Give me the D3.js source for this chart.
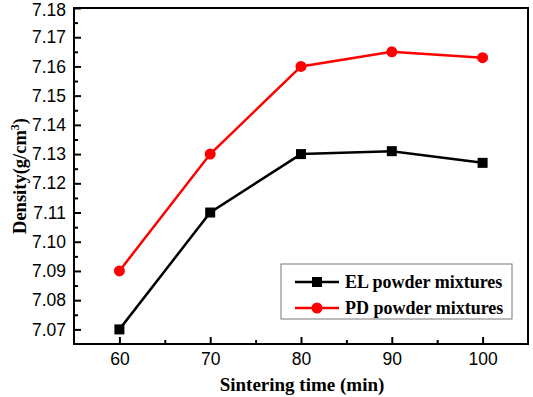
<!DOCTYPE html>
<html>
<head>
<meta charset="utf-8">
<script src="https://cdn.jsdelivr.net/npm/d3@7"></script>
<style>
  body { margin: 0; background: #fff; }
  svg { display: block; }
</style>
</head>
<body>
<div id="chart"></div>
<script>
// Data
const times = [60, 70, 80, 90, 100];
const elDensity = [7.070, 7.110, 7.130, 7.131, 7.127];
const pdDensity = [7.090, 7.130, 7.160, 7.165, 7.163];
const yTickValues = [7.07, 7.08, 7.09, 7.10, 7.11, 7.12, 7.13, 7.14, 7.15, 7.16, 7.17, 7.18];
const xTickValues = [60, 70, 80, 90, 100];
const seriesNames = ['EL powder mixtures', 'PD powder mixtures'];

const W = 533, H = 397;
const margin = { top: 8, right: 5, bottom: 53, left: 74 };
const width = W - margin.left - margin.right;
const height = H - margin.top - margin.bottom;

const svg = d3.select('#chart').append('svg')
  .attr('width', W)
  .attr('height', H);

const g = svg.append('g')
  .attr('transform', `translate(${margin.left},${margin.top})`);

const x = d3.scaleLinear().domain([55, 105]).range([0, width]);
const y = d3.scaleLinear().domain([7.065, 7.18]).range([height, 0]);

// Minor ticks (inward)
const xMinor = [65, 75, 85, 95];
const yMinor = d3.range(7.075, 7.18, 0.01).map(v => +v.toFixed(3));

g.append('g')
  .attr('transform', `translate(0,${height})`)
  .call(d3.axisBottom(x).tickValues(xMinor).tickSize(-4).tickFormat(''))
  .call(s => s.select('.domain').remove())
  .selectAll('line').attr('stroke', '#000').attr('stroke-width', 2);

g.append('g')
  .call(d3.axisLeft(y).tickValues(yMinor).tickSize(-4).tickFormat(''))
  .call(s => s.select('.domain').remove())
  .selectAll('line').attr('stroke', '#000').attr('stroke-width', 2);

// Major axes
const xAxis = g.append('g')
  .attr('transform', `translate(0,${height})`)
  .call(d3.axisBottom(x).tickValues(xTickValues).tickSizeInner(-7).tickSizeOuter(0).tickPadding(9));
xAxis.select('.domain').remove();
xAxis.selectAll('line').attr('stroke', '#000').attr('stroke-width', 2);
xAxis.selectAll('text')
  .attr('font-family', 'Liberation Sans, Arial, sans-serif')
  .attr('font-size', 17.5).attr('fill', '#000');

const yAxis = g.append('g')
  .call(d3.axisLeft(y).tickValues(yTickValues).tickFormat(d3.format('.2f')).tickSizeInner(-7).tickSizeOuter(0).tickPadding(8));
yAxis.select('.domain').remove();
yAxis.selectAll('line').attr('stroke', '#000').attr('stroke-width', 2);
yAxis.selectAll('text')
  .attr('font-family', 'Liberation Sans, Arial, sans-serif')
  .attr('font-size', 17.5).attr('fill', '#000');
// keep the top label inside the page
yAxis.selectAll('text').filter(d => d === 7.18).attr('dy', '0.45em');

// Frame
g.append('rect')
  .attr('x', 0).attr('y', 0)
  .attr('width', width).attr('height', height)
  .attr('fill', 'none')
  .attr('stroke', '#000')
  .attr('stroke-width', 2);

// Lines
const line = d3.line().x((d, i) => x(times[i])).y(d => y(d));

g.append('path').datum(elDensity)
  .attr('fill', 'none').attr('stroke', '#000').attr('stroke-width', 2.5)
  .attr('d', line);
g.append('path').datum(pdDensity)
  .attr('fill', 'none').attr('stroke', '#ff0000').attr('stroke-width', 2.5)
  .attr('d', line);

g.selectAll('.el-pt').data(elDensity).enter().append('rect')
  .attr('class', 'el-pt')
  .attr('x', (d, i) => x(times[i]) - 5)
  .attr('y', d => y(d) - 5)
  .attr('width', 10).attr('height', 10)
  .attr('fill', '#000');

g.selectAll('.pd-pt').data(pdDensity).enter().append('circle')
  .attr('class', 'pd-pt')
  .attr('cx', (d, i) => x(times[i]))
  .attr('cy', d => y(d))
  .attr('r', 5.5)
  .attr('fill', '#ff0000');

// Legend
const legend = svg.append('g').attr('transform', 'translate(281,264)');
legend.append('rect')
  .attr('width', 231).attr('height', 55)
  .attr('fill', '#fff').attr('stroke', '#777').attr('stroke-width', 1);

const rows = [
  { name: seriesNames[0], color: '#000', marker: 'square', y: 18 },
  { name: seriesNames[1], color: '#ff0000', marker: 'circle', y: 44 }
];
rows.forEach(r => {
  legend.append('line')
    .attr('x1', 14).attr('x2', 58).attr('y1', r.y).attr('y2', r.y)
    .attr('stroke', r.color).attr('stroke-width', 2.5);
  if (r.marker === 'square') {
    legend.append('rect').attr('x', 31).attr('y', r.y - 5).attr('width', 10).attr('height', 10).attr('fill', r.color);
  } else {
    legend.append('circle').attr('cx', 36).attr('cy', r.y).attr('r', 5.5).attr('fill', r.color);
  }
  legend.append('text')
    .attr('x', 64).attr('y', r.y).attr('dy', '0.35em')
    .attr('font-family', 'Liberation Serif, Times New Roman, serif')
    .attr('font-weight', 'bold').attr('font-size', 18)
    .text(r.name);
});

// Axis titles
svg.append('text')
  .attr('x', 302)
  .attr('y', 391)
  .attr('text-anchor', 'middle')
  .attr('font-family', 'Liberation Serif, Times New Roman, serif')
  .attr('font-weight', 'bold').attr('font-size', 19)
  .text('Sintering time (min)');

const yTitle = svg.append('text')
  .attr('transform', 'translate(26,176) rotate(-90)')
  .attr('text-anchor', 'middle')
  .attr('font-family', 'Liberation Serif, Times New Roman, serif')
  .attr('font-weight', 'bold').attr('font-size', 18.5);
yTitle.append('tspan').text('Density(g/cm');
yTitle.append('tspan').attr('baseline-shift', 'super').attr('font-size', 12).text('3');
yTitle.append('tspan').text(')');
</script>
</body>
</html>
